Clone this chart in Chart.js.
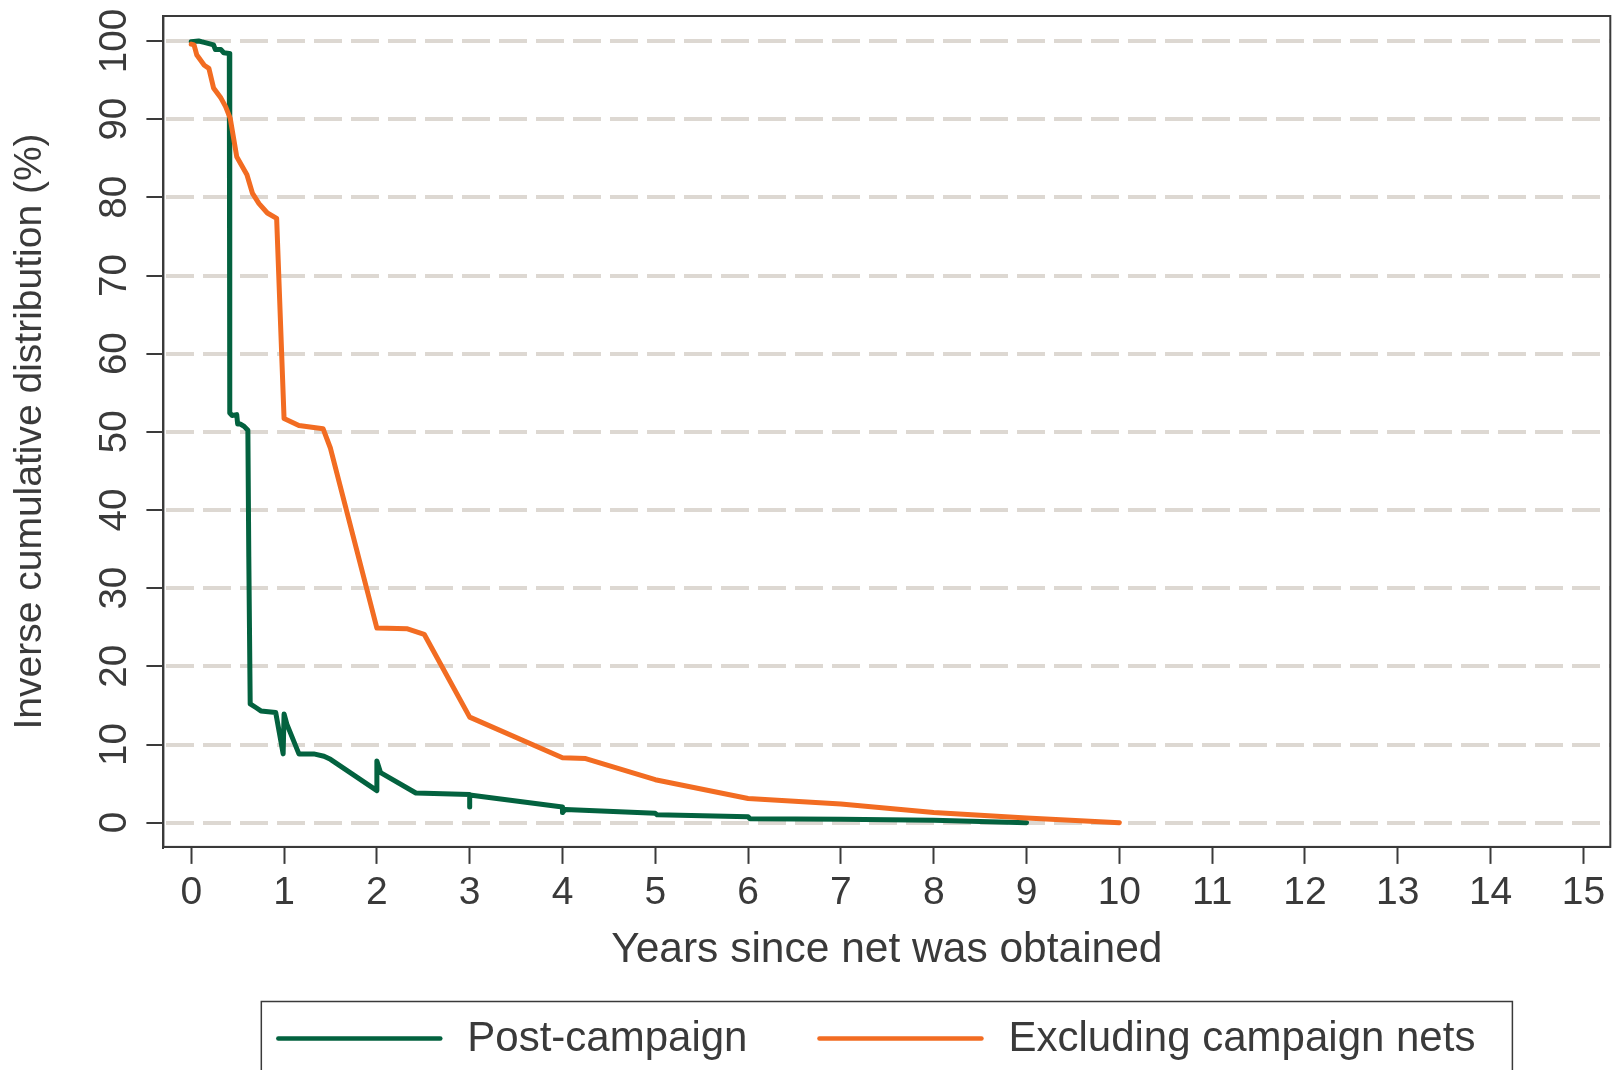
<!DOCTYPE html>
<html>
<head>
<meta charset="utf-8">
<script src="https://cdn.jsdelivr.net/npm/chart.js@4/dist/chart.umd.min.js"></script>
<style>
  html, body { margin: 0; padding: 0; background: #ffffff; }
</style>
</head>
<body>
<canvas id="grafico" width="1616" height="1070"></canvas>
<script>
// Post-campaign curve (years, %)
const postYears = [0, 0.08, 0.15, 0.24, 0.26, 0.32, 0.35, 0.41, 0.415, 0.44, 0.49, 0.50, 0.53, 0.57, 0.61, 0.62, 0.635,
    0.70, 0.75, 0.91, 0.99, 1.00, 1.03, 1.16, 1.32, 1.43, 1.50, 2.00, 2.00, 2.04, 2.42,
    3.00, 3.00, 3.00, 4.00, 4.00, 4.03, 5.00, 5.02, 6.00, 6.02, 7.00, 8.00, 9.00];
const postPct = [99.9, 100, 99.8, 99.5, 98.9, 98.9, 98.5, 98.4, 52.4, 52.1, 52.2, 51.0, 51.0, 50.7, 50.2, 34.0, 15.2,
    14.7, 14.3, 14.1, 8.8, 13.9, 12.6, 8.8, 8.8, 8.5, 8.1, 4.1, 7.9, 6.4, 3.8,
    3.6, 2.0, 3.55, 2.0, 1.3, 1.7, 1.2, 1.0, 0.75, 0.5, 0.45, 0.3, 0.0];

// Excluding campaign nets curve (years, %)
const exclYears = [0, 0.03, 0.06, 0.14, 0.19, 0.24, 0.32, 0.37, 0.42, 0.49, 0.60, 0.66, 0.73, 0.82, 0.92,
    1.00, 1.16, 1.42, 1.50, 2.00, 2.33, 2.51, 3.00, 4.00, 4.25, 5.00, 6.00, 7.00, 8.00, 9.00, 10.00];
const exclPct = [99.6, 99.5, 98.2, 96.9, 96.5, 94.0, 92.7, 91.6, 90.1, 85.2, 82.9, 80.5, 79.2, 78.0, 77.3,
    51.7, 50.8, 50.4, 47.9, 24.9, 24.8, 24.1, 13.5, 8.3, 8.2, 5.5, 3.1, 2.4, 1.3, 0.6, 0.0];

const xTicks = [0, 1, 2, 3, 4, 5, 6, 7, 8, 9, 10, 11, 12, 13, 14, 15];
const yTicks = [0, 10, 20, 30, 40, 50, 60, 70, 80, 90, 100];

const seriesLabels = ["Post-campaign", "Excluding campaign nets"];
const seriesColors = ["#03623f", "#f26c22"];

const textColor = "#3a3a3a";
const fontFamily = "'Liberation Sans', Arial, Helvetica, sans-serif";

document.addEventListener("DOMContentLoaded", function () {
    const ctx = document.getElementById("grafico").getContext("2d");

    const toPoints = (xs, ys) => xs.map((x, i) => ({ x: x, y: ys[i] }));

    // frame around plot + boxed legend under the axis title
    const marcoYLeyenda = {
        id: "marcoYLeyenda",
        afterDraw(chart) {
            const c = chart.ctx;
            const area = chart.chartArea;
            c.save();
            c.strokeStyle = textColor;
            c.lineWidth = 2;
            c.strokeRect(area.left, area.top, area.right - area.left, area.bottom - area.top);

            c.font = "42px " + fontFamily;
            const items = chart.data.datasets.map(ds => ({
                label: ds.label,
                color: ds.borderColor,
                w: c.measureText(ds.label).width
            }));
            const lineLen = 162, gapText = 27, gapItem = 72, padL = 17, padR = 31;
            let total = padL + padR + gapItem * (items.length - 1);
            items.forEach(it => { total += lineLen + gapText + it.w; });

            const cx = (area.left + area.right) / 2;
            const boxTop = chart.height - 68.5;
            const midY = chart.height - 31.5;
            let x = cx - total / 2 - 3;

            c.lineWidth = 1.5;
            c.strokeRect(x, boxTop, total + 6, 200);

            x += padL;
            c.textBaseline = "middle";
            c.textAlign = "left";
            items.forEach(it => {
                c.strokeStyle = it.color;
                c.lineWidth = 4.5;
                c.lineCap = "round";
                c.beginPath();
                c.moveTo(x, midY);
                c.lineTo(x + lineLen, midY);
                c.stroke();
                x += lineLen + gapText;
                c.fillStyle = textColor;
                c.fillText(it.label, x, midY + 1);
                x += it.w + gapItem;
            });
            c.restore();
        }
    };

    new Chart(ctx, {
        type: "line",
        data: {
            datasets: [
                {
                    label: seriesLabels[0],
                    data: toPoints(postYears, postPct),
                    borderColor: seriesColors[0],
                    backgroundColor: seriesColors[0],
                    borderWidth: 5,
                    pointRadius: 0,
                    tension: 0,
                    fill: false,
                    borderJoinStyle: "round",
                    borderCapStyle: "round",
                    order: 2
                },
                {
                    label: seriesLabels[1],
                    data: toPoints(exclYears, exclPct),
                    borderColor: seriesColors[1],
                    backgroundColor: seriesColors[1],
                    borderWidth: 5,
                    pointRadius: 0,
                    tension: 0,
                    fill: false,
                    borderJoinStyle: "round",
                    borderCapStyle: "round",
                    order: 1
                }
            ]
        },
        options: {
            responsive: false,
            animation: false,
            layout: {
                padding: { top: 16, right: 5.7, bottom: 94.3, left: 0 }
            },
            plugins: {
                legend: { display: false },
                tooltip: { enabled: false }
            },
            scales: {
                x: {
                    type: "linear",
                    position: "bottom",
                    min: -0.3,
                    max: 15.29,
                    afterBuildTicks: axis => { axis.ticks = xTicks.map(v => ({ value: v })); },
                    grid: {
                        drawOnChartArea: false,
                        drawTicks: true,
                        tickLength: 17,
                        tickColor: textColor,
                        tickWidth: 2
                    },
                    border: { display: true, color: textColor, width: 2 },
                    ticks: {
                        color: textColor,
                        font: { family: fontFamily, size: 39, lineHeight: 1.2 },
                        padding: 5.6,
                        maxRotation: 0,
                        minRotation: 0,
                        autoSkip: false
                    },
                    title: {
                        display: true,
                        text: "Years since net was obtained",
                        color: textColor,
                        font: { family: fontFamily, size: 42.5, lineHeight: 1.2 },
                        padding: { top: 2.8, bottom: 0 }
                    }
                },
                y: {
                    type: "linear",
                    min: -3.1,
                    max: 103.2,
                    afterBuildTicks: axis => { axis.ticks = yTicks.map(v => ({ value: v })); },
                    grid: {
                        color: "#ddd8d2",
                        lineWidth: 4,
                        drawTicks: true,
                        tickLength: 17,
                        tickColor: textColor,
                        tickWidth: 2,
                        tickBorderDash: []
                    },
                    border: { display: true, color: textColor, width: 2, dash: [28, 9], dashOffset: -2 },
                    ticks: {
                        color: textColor,
                        font: { family: fontFamily, size: 38.5, lineHeight: 0.79 },
                        padding: -1,
                        minRotation: 90,
                        maxRotation: 90,
                        crossAlign: "center",
                        autoSkip: false
                    },
                    title: {
                        display: true,
                        text: "Inverse cumulative distribution (%)",
                        color: textColor,
                        font: { family: fontFamily, size: 39, lineHeight: 1.2 },
                        padding: { top: 6.4, bottom: 64.8 }
                    }
                }
            }
        },
        plugins: [marcoYLeyenda]
    });
});
</script>
</body>
</html>
